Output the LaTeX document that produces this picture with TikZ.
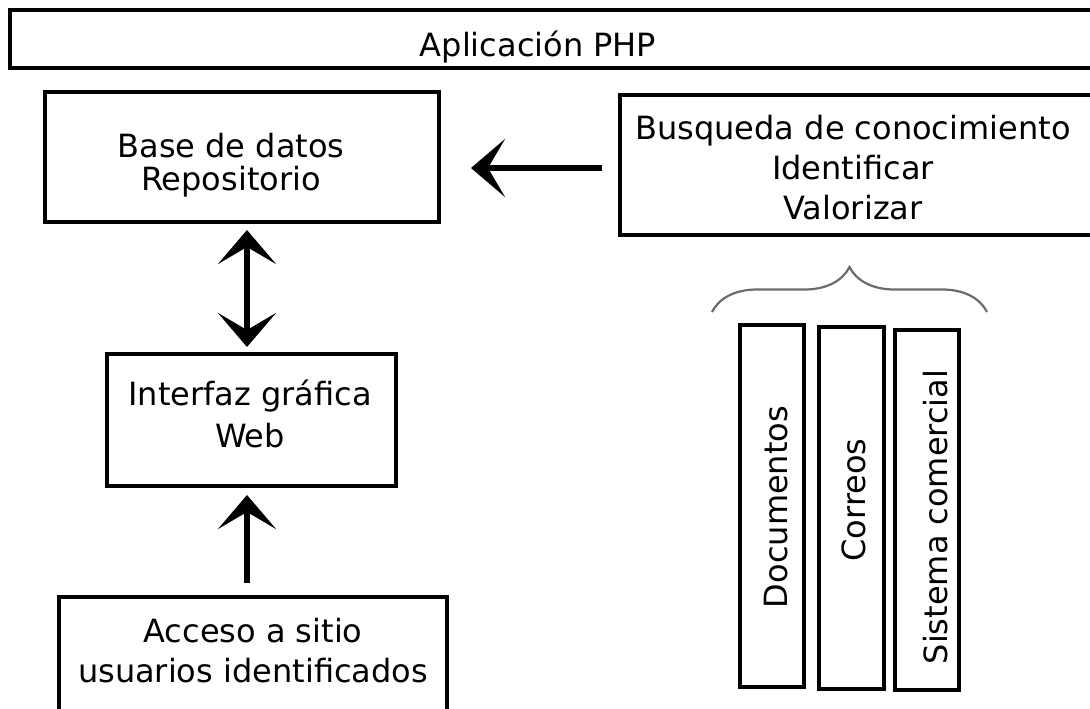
\documentclass[tikz,border=0pt]{standalone}
\usepackage{fontspec}
\setmainfont{DejaVu Sans}
\usetikzlibrary{arrows.meta,decorations.pathreplacing}
\definecolor{LlaveClr}{rgb}{0.42,0.42,0.42}

\begin{document}
\begin{tikzpicture}[x=1pt,y=-1pt,
  caja/.style={draw=black,line width=4.5pt,inner sep=0pt,outer sep=0pt},
  texto/.style={font=\fontsize{32}{40}\selectfont,align=center,inner sep=0pt},
  punta/.tip={Stealth[length=34pt,width=58pt,inset=17pt]},
  flecha/.style={line width=5.5pt,-punta},
  dobleflecha/.style={line width=5.5pt,punta-punta},
  llave/.style={draw=LlaveClr,line width=2.2pt,decorate,decoration={brace,amplitude=45pt}}]
\useasboundingbox (0,0) rectangle (1090,709);

% aplicacion
\node[caja,anchor=north west,minimum width=1200pt,minimum height=58pt] (appcaja) at (10,10) {};
\node[texto,anchor=base] (app) at (538,57) {Aplicación PHP};

% lado izquierdo
\node[caja,minimum width=394pt,minimum height=130pt] (base) at (242,157) {};
\node[texto] (basetxt) at (231,165) {Base de datos\\[-7pt]Repositorio};

\node[caja,minimum width=289pt,minimum height=132pt] (web) at (251.5,420) {};
\node[texto] (webtxt) at (250,413.5) {Interfaz gráfica\\[2pt]Web};

\node[caja,anchor=north west,minimum width=388pt,minimum height=200pt] (acceso) at (59,597) {};
\node[texto] (accesotxt) at (253,651) {Acceso a sitio\\usuarios identificados};

% lado derecho
\node[caja,anchor=north west,minimum width=600pt,minimum height=140pt] (busq) at (620,95) {};
\node[texto] (busqtxt) at (853,168) {Busqueda de conocimiento\\Identificar\\Valorizar};

\node[caja,minimum width=64pt,minimum height=362pt] (doc) at (772,506) {};
\node[texto,rotate=90,anchor=base] (doctxt) at (787,507) {Documentos};
\node[caja,minimum width=65pt,minimum height=362pt] (cor) at (851.5,508) {};
\node[texto,rotate=90,anchor=base] (cortxt) at (865,500) {Correos};
\node[caja,minimum width=64pt,minimum height=360pt] (sis) at (927,510) {};
\node[texto,rotate=90,anchor=base] (sistxt) at (947,517) {Sistema comercial};

\draw[llave] ([xshift=-28pt,yshift=13pt]doc.north west) -- ([xshift=28pt,yshift=18pt]sis.north east);

% flechas
\coordinate (flechaini) at ([yshift=-3pt]busq.west);
\draw[flecha,shorten <=18pt,shorten >=32pt] (flechaini) -- (flechaini -| base.east);
\draw[dobleflecha,shorten <=8pt,shorten >=7pt] ([xshift=5pt]base.south) -- ([xshift=-4.5pt]web.north);
\draw[flecha,shorten <=14pt,shorten >=9pt] ([xshift=-6pt]acceso.north) -- ([xshift=-4.5pt]web.south);

\end{tikzpicture}
\end{document}
